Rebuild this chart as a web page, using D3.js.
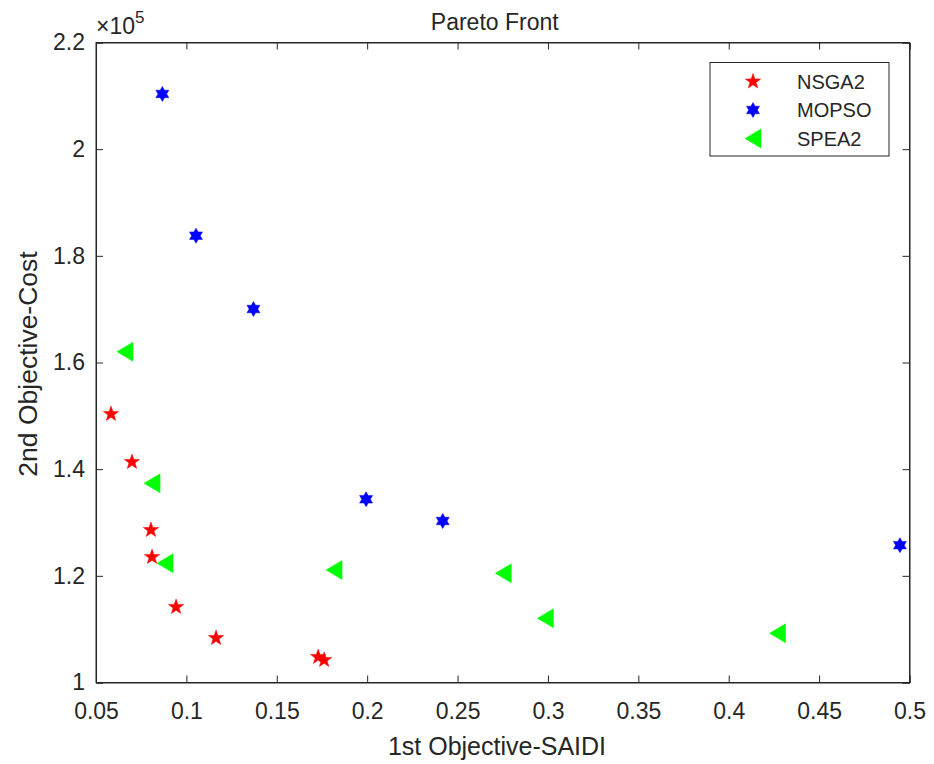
<!DOCTYPE html>
<html>
<head>
<meta charset="utf-8">
<script src="https://cdn.jsdelivr.net/npm/d3@7"></script>
<style>
  body { margin: 0; background: #fff; }
  svg text { font-family: "Liberation Sans", Arial, Helvetica, sans-serif; fill: #262626; }
</style>
</head>
<body>
<svg id="chart" width="934" height="764"></svg>
<script>
// ---- data ----
const nsga2X = [0.0583, 0.0699, 0.0804, 0.0810, 0.0943, 0.1164, 0.1729, 0.1762];
const nsga2Y = [1.5035, 1.4135, 1.2859, 1.2353, 1.1416, 1.0834, 1.0478, 1.0422];
const mopsoX = [0.0867, 0.1053, 0.1371, 0.1994, 0.2418, 0.4947];
const mopsoY = [2.1035, 1.8378, 1.7003, 1.3435, 1.3028, 1.2575];
const spea2X = [0.0660, 0.0810, 0.0882, 0.1817, 0.2753, 0.2986, 0.4270];
const spea2Y = [1.6203, 1.3735, 1.2235, 1.2110, 1.2048, 1.1204, 1.0922];
const xTicks = [0.05, 0.1, 0.15, 0.2, 0.25, 0.3, 0.35, 0.4, 0.45, 0.5];
const yTicks = [1, 1.2, 1.4, 1.6, 1.8, 2, 2.2];
const seriesNames = ["NSGA2", "MOPSO", "SPEA2"];
const seriesColors = ["#ff0000", "#0000ff", "#00ff00"];

const svg = d3.select("#chart");
const L = 96, R = 909.5, T = 42.5, B = 682.5;
const x = d3.scaleLinear().domain([0.05, 0.5]).range([L, R]);
const y = d3.scaleLinear().domain([1, 2.2]).range([B, T]);
const axisColor = "#262626";

// marker shapes
function starPath(n, ro, ri, rot) {
  const pts = [];
  for (let i = 0; i < 2 * n; i++) {
    const r = i % 2 === 0 ? ro : ri;
    const a = rot + i * Math.PI / n;
    pts.push([r * Math.sin(a), -r * Math.cos(a)]);
  }
  return "M" + pts.map(p => p[0].toFixed(2) + "," + p[1].toFixed(2)).join("L") + "Z";
}
const pentagram = starPath(5, 8, 3.2, 0);
const hexagram = starPath(6, 7.5, 4.3, 0);
const triLeft = "M-8,0L8,-9.5L8,9.5Z";
const shapes = [pentagram, hexagram, triLeft];

// plot box
svg.append("rect").attr("x", L).attr("y", T).attr("width", R - L).attr("height", B - T)
  .attr("fill", "#fff").attr("stroke", axisColor).attr("stroke-width", 1);

// axes (ticks inward)
const tickFont = 23;
const xAxisB = d3.axisBottom(x).tickValues(xTicks).tickSize(-7).tickPadding(20)
  .tickFormat(d => String(+d.toFixed(2)));
const gxb = svg.append("g").attr("transform", `translate(0,${B})`).call(xAxisB);
const gxt = svg.append("g").attr("transform", `translate(0,${T})`)
  .call(d3.axisTop(x).tickValues(xTicks).tickSize(-7).tickFormat(""));
const yAxisL = d3.axisLeft(y).tickValues(yTicks).tickSize(-7).tickPadding(11)
  .tickFormat(d => String(+d.toFixed(1)));
const gyl = svg.append("g").attr("transform", `translate(${L},0)`).call(yAxisL);
const gyr = svg.append("g").attr("transform", `translate(${R},0)`)
  .call(d3.axisRight(y).tickValues(yTicks).tickSize(-7).tickFormat(""));
[gxb, gxt, gyl, gyr].forEach(g => {
  g.attr("font-size", tickFont).attr("font-family", "'Liberation Sans', Arial, sans-serif");
  g.select(".domain").attr("stroke", axisColor);
  g.selectAll(".tick line").attr("stroke", axisColor);
  g.selectAll("text").attr("font-size", tickFont).style("fill", axisColor);
});
gxb.selectAll("text").attr("dy", "0.71em");

// exponent
const ex = svg.append("text").attr("x", L).attr("y", 34).attr("font-size", tickFont);
ex.append("tspan").text("\u00d710");
ex.append("tspan").attr("dy", -11).attr("font-size", 17).text("5");

// title and labels
svg.append("text").attr("x", (L + R) / 2 - 8).attr("y", 30).attr("text-anchor", "middle")
  .attr("font-size", 23).text("Pareto Front");
svg.append("text").attr("x", 497).attr("y", 755).attr("text-anchor", "middle")
  .attr("font-size", 25).text("1st Objective-SAIDI");
svg.append("text").attr("transform", `translate(37,${364}) rotate(-90)`)
  .attr("text-anchor", "middle").attr("font-size", 26.5).text("2nd Objective-Cost");

// points
const series = [
  { xs: nsga2X, ys: nsga2Y },
  { xs: mopsoX, ys: mopsoY },
  { xs: spea2X, ys: spea2Y }
];
series.forEach((s, si) => {
  const pts = s.xs.map((v, i) => [v, s.ys[i]]);
  svg.append("g").selectAll("path").data(pts).join("path")
    .attr("d", shapes[si])
    .attr("transform", d => `translate(${x(d[0])},${y(d[1])})`)
    .attr("fill", seriesColors[si]).attr("stroke", seriesColors[si]).attr("stroke-width", 0.5);
});

// legend
const lg = svg.append("g");
lg.append("rect").attr("x", 710).attr("y", 62.5).attr("width", 179).attr("height", 93.5)
  .attr("fill", "#fff").attr("stroke", axisColor).attr("stroke-width", 1);
const legY = [81.5, 110, 138.5];
seriesNames.forEach((name, i) => {
  lg.append("path").attr("d", shapes[i]).attr("transform", `translate(753,${legY[i]})`)
    .attr("fill", seriesColors[i]).attr("stroke", seriesColors[i]).attr("stroke-width", 0.5);
  lg.append("text").attr("x", 797).attr("y", legY[i]).attr("dy", "0.36em")
    .attr("font-size", 20).text(name);
});
</script>
</body>
</html>
